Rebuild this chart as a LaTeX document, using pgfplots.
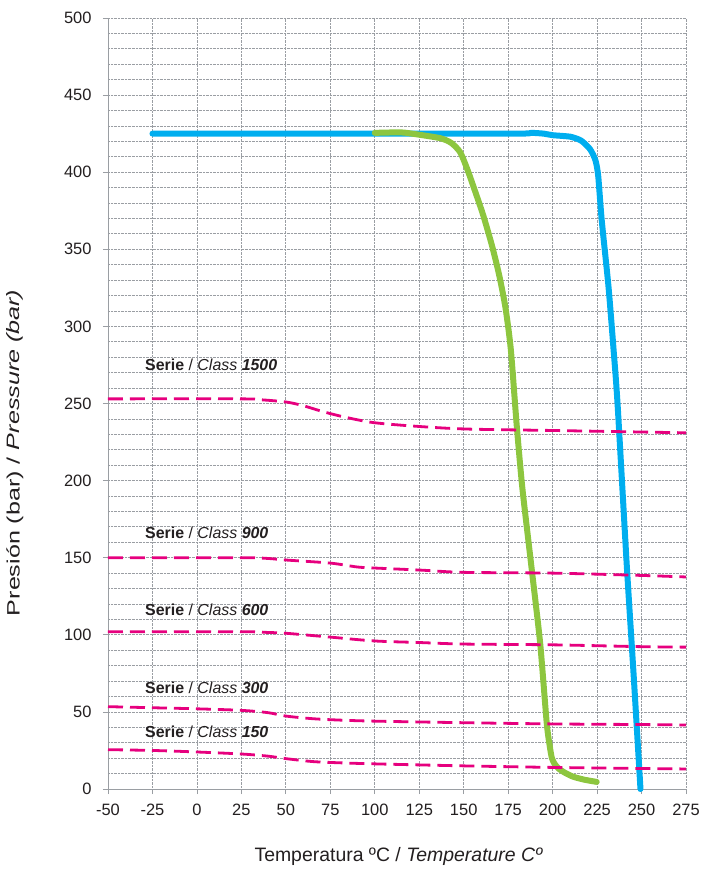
\documentclass[border=0pt]{standalone}
\usepackage{pgfplots}
\pgfplotsset{compat=1.18}
\usepackage{fontspec}
\setmainfont{Liberation Sans}
\definecolor{mag}{HTML}{E6007E}
\definecolor{cblue}{HTML}{00AEEF}
\definecolor{cgreen}{HTML}{8DC63F}
\definecolor{gridc}{HTML}{9A9EA3}
\definecolor{txt}{HTML}{231F20}
\begin{document}
\begin{tikzpicture}
\useasboundingbox (-108bp,-81bp) rectangle (593bp,789bp);
\begin{axis}[
  at={(0,0)}, anchor=south west,
  scale only axis, width=578bp, height=771bp,
  xmin=-50, xmax=275, ymin=0, ymax=500,
  xtick={-50,-25,...,275}, ytick={0,50,...,500},
  minor y tick num=4,
  axis x line=bottom, axis y line=left,
  axis line style={gridc, line width=1pt, -},
  grid=both,
  major grid style={gridc, densely dotted, line width=0.8pt},
  minor grid style={gridc, densely dotted, line width=0.8pt},
  tick style={gridc, line width=0.8pt},
  tick align=outside, major tick length=5bp, minor tick length=0pt,
  ticklabel style={font=\fontsize{16.5}{19}\selectfont, text=txt},
  /pgf/number format/assume math mode=true,
  xticklabel style={yshift=-7bp},
  yticklabel style={xshift=-8bp},
  xlabel={\fontsize{19.5}{23}\selectfont Temperatura ºC / \textit{Temperature Cº}},
  ylabel={\scalebox{1.4}[1]{\fontsize{18}{21}\selectfont Presión (bar) / \textit{Pressure (bar)}}},
  label style={text=txt},
  xlabel style={at={(axis description cs:0.503,-0.088)}, anchor=center},
  ylabel style={at={(axis description cs:-0.161,0.436)}, anchor=center, rotate=0},
  clip=false,
]
% blue
\addplot[cblue, line width=6bp, line cap=round, smooth, tension=0.4] coordinates {
(-25,425) (100,425) (180,425) (188,425.5) (195,425) (200,424) (210,423) (216,420.5) (221,415) (224,408) (225.6,398) (227.6,369) (231.4,326) (234.2,286) (236.5,250) (241.7,145) (245.5,75) (249.4,0)
};
% green
\addplot[cgreen, line width=6bp, line cap=round, smooth, tension=0.4] coordinates {
(100,425.5) (115,425.8) (125,424.3) (137,422) (143,419) (148,413) (152,402) (156,389) (161,372) (166,352) (170,333) (173.5,312) (176.5,285) (179.8,236) (183,195) (188.3,142) (193,94.5) (196.7,42.6) (198.5,27) (199.6,20) (201,16.5) (203.3,13.3) (207,10.5) (211.7,7.9) (218,6) (224.8,4.6)
};
% class lines
\pgfplotsset{classline/.style={mag, line width=2.8bp, dash pattern=on 15bp off 7bp, smooth, tension=0.5}}
\addplot[classline] coordinates {
(-50,253) (25,253) (35,252.5) (50,251) (60,248.5) (70,245) (80,242) (90,239.5) (100,237.5) (120,235.5) (150,233.5) (200,232.5) (250,231.5) (275,231)
};
\addplot[classline] coordinates {
(-50,150) (25,150) (40,149.5) (50,148.5) (75,146.5) (90,144) (100,143.3) (125,142) (150,140.5) (200,140) (250,138.5) (275,137.5)
};
\addplot[classline] coordinates {
(-50,102) (25,102) (40,101.5) (50,101) (75,98.5) (100,96) (125,95) (150,94) (200,93.5) (250,92.3) (275,92)
};
\addplot[classline] coordinates {
(-50,53.4) (-25,52.7) (0,52) (25,51) (40,49.5) (50,47.3) (65,45.6) (80,44.7) (100,44) (150,43) (200,42.2) (250,41.8) (275,41.5)
};
\addplot[classline] coordinates {
(-50,25.5) (-25,25) (0,24) (25,22.7) (40,21.3) (50,19.7) (65,17.8) (80,17) (100,16.3) (150,15) (200,14) (250,13.3) (275,13)
};
\tikzset{cl/.style={anchor=west, inner sep=0pt, font=\fontsize{16}{19}\selectfont, text=txt}}
\node[cl] at (axis cs:-29.2,275.2) {\textbf{Serie} / \textit{Class} \textbf{\textit{1500}}};
\node[cl] at (axis cs:-29.2,166.2) {\textbf{Serie} / \textit{Class} \textbf{\textit{900}}};
\node[cl] at (axis cs:-29.2,116) {\textbf{Serie} / \textit{Class} \textbf{\textit{600}}};
\node[cl] at (axis cs:-29.2,65.7) {\textbf{Serie} / \textit{Class} \textbf{\textit{300}}};
\node[cl] at (axis cs:-29.2,36.8) {\textbf{Serie} / \textit{Class} \textbf{\textit{150}}};
\end{axis}
\end{tikzpicture}
\end{document}
